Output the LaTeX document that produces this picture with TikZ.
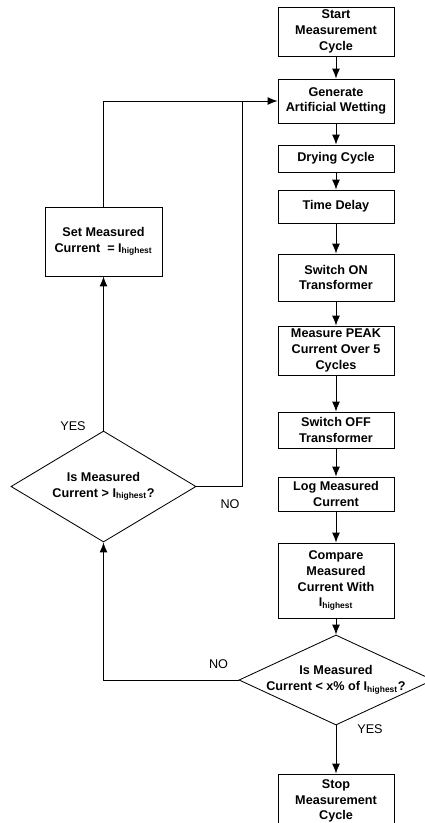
\documentclass[tikz,border=0pt]{standalone}
\usepackage{fontspec}
\setmainfont{Liberation Sans}
\usetikzlibrary{arrows.meta,positioning,shapes.geometric}
\newcommand{\Ihigh}{I\textsubscript{highest}}

\begin{document}
\begin{tikzpicture}[x=0.025cm,y=-0.025cm,
            box/.style={draw,rectangle,minimum width=2.9cm,align=center,inner sep=1pt,font=\bfseries\fontsize{9}{11.2}\selectfont},
            dec/.style={draw,diamond,inner sep=0pt,label={[align=center,font=\bfseries\fontsize{9}{11.2}\selectfont]center:#1}},
            lab/.style={font=\fontsize{9}{11}\selectfont},
            line/.style={draw,->,>={Latex[length=7pt,width=5.5pt]}},
            every path/.style={line width=0.6pt}
          ]
          \useasboundingbox (0,0) rectangle (425,823);

          %main column
          \node[box,minimum height=1.225cm] (start) at (336,31.5) {Start\\Measurement\\Cycle};
          \node[box,minimum height=1.1cm] (gen) at (336,101) {Generate\\Artificial Wetting};
          \node[box,minimum height=0.675cm] (dry) at (336,158.5) {Drying Cycle};
          \node[box,minimum height=0.825cm] (delay) at (336,206.5) {Time Delay};
          \node[box,minimum height=1.175cm] (on) at (336,277.5) {Switch ON\\Transformer};
          \node[box,minimum height=1.225cm] (peak) at (336,350.5) {Measure PEAK\\Current Over 5\\Cycles};
          \node[box,minimum height=0.9cm] (off) at (336,430) {Switch OFF\\Transformer};
          \node[box,minimum height=0.85cm] (log) at (336,494) {Log Measured\\Current};
          \node[box,minimum height=1.875cm] (cmp) at (336,580.5) {Compare\\Measured\\Current With\\\Ihigh};
          \node[dec={Is Measured\\Current < x\% of \Ihigh?},minimum width=4.85cm,minimum height=2.25cm] (low) at (336,680) {};
          \node[box,minimum height=1.35cm] (stop) at (336,801) {Stop\\Measurement\\Cycle};

          %loop back
          \node[box,minimum width=2.925cm,minimum height=1.725cm] (set) at (103.5,241.5) {Set Measured\\Current ~= \Ihigh};
          \node[dec={Is Measured\\Current > \Ihigh?},minimum width=4.625cm,minimum height=2.775cm] (high) at (103.5,486.5) {};
          \coordinate (join) at (242,101);

          %labels
          \node[lab] (yes1) at (370,729) {YES};
          \node[lab] (no1) at (218.5,664) {NO};
          \node[lab] (yes2) at (73,426) {YES};
          \node[lab] (no2) at (230,504) {NO};

          \path[line]
          (start) edge (gen)
          (gen) edge (dry)
          (dry) edge (delay)
          (delay) edge (on)
          (on) edge (peak)
          (peak) edge (off)
          (off) edge (log)
          (log) edge (cmp)
          (cmp) edge (low)
          (low) edge (stop)
          (high) edge (set)
          ;
          \path[line] (low.west) -| (high.south);
          \path[line] (set.north) |- (gen.west);
          \draw (high.east) -| (join);

      \end{tikzpicture}
\end{document}
